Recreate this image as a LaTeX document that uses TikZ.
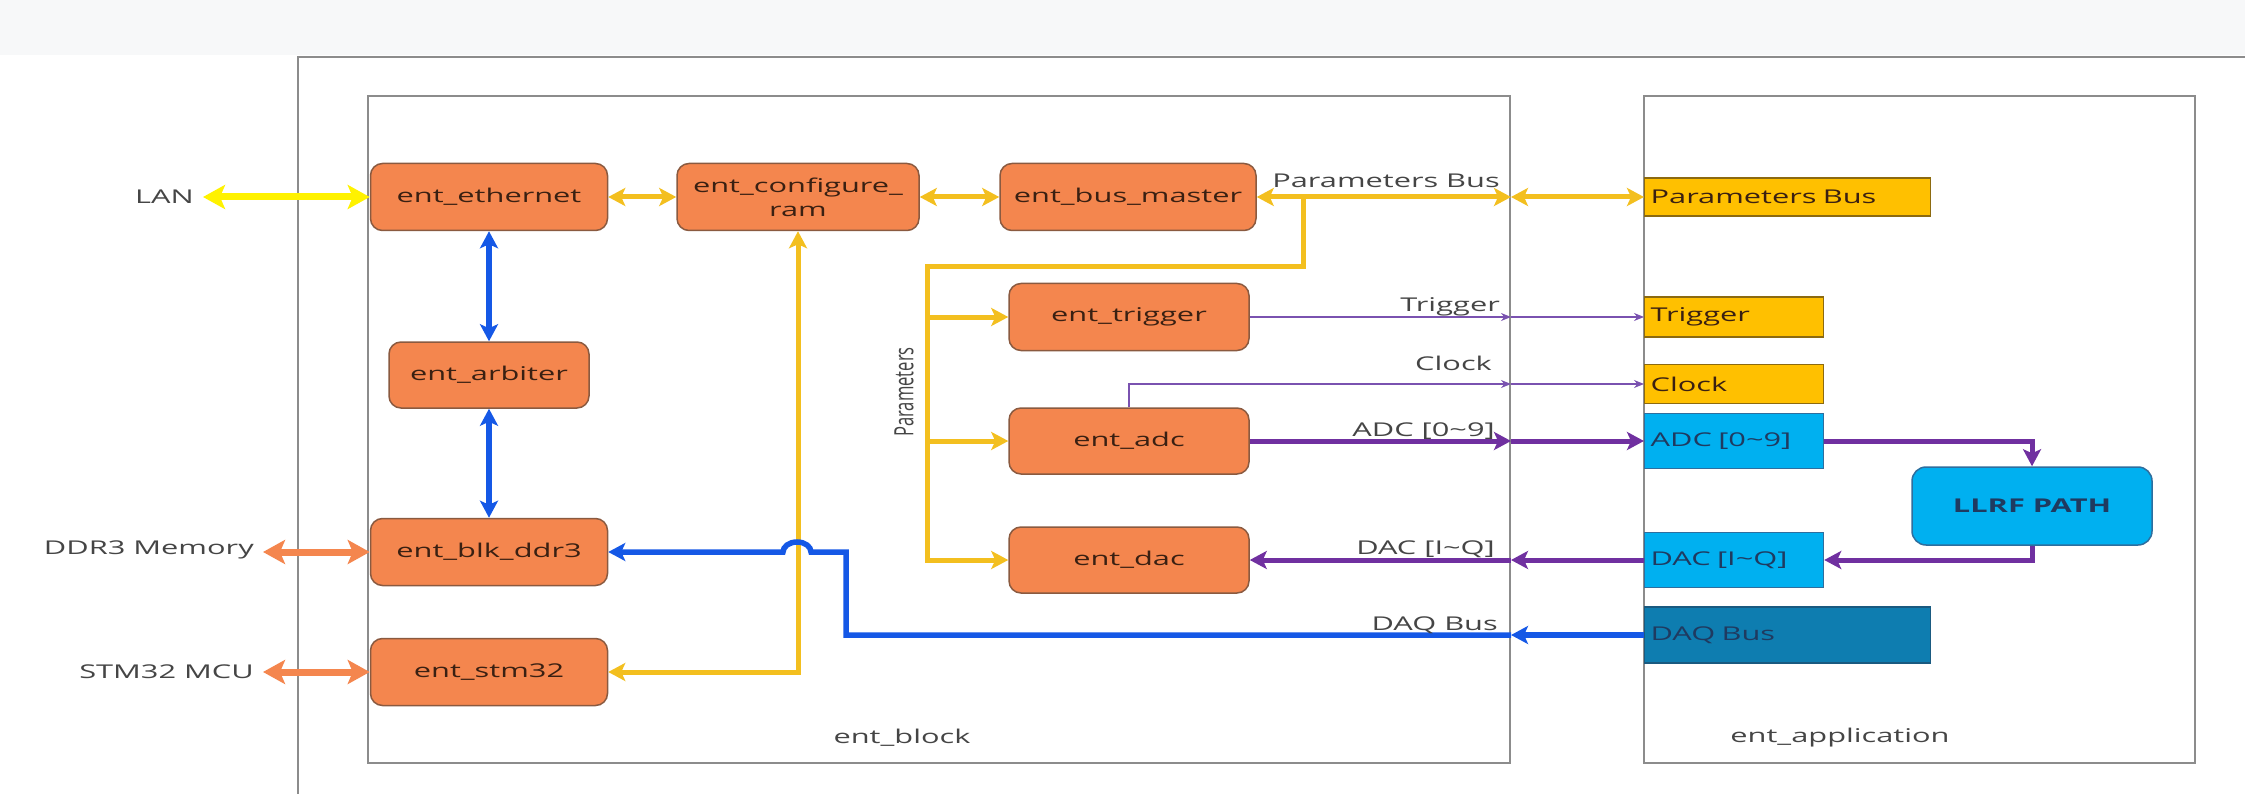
\documentclass[tikz,border=0pt]{standalone}
\usepackage{fontspec}
\usepackage{graphicx}
\setmainfont{Open Sans}[FakeStretch=1.62]
\newfontfamily\plainfont{Open Sans}
\usetikzlibrary{arrows.meta}
\usetikzlibrary{calc}

\definecolor{bandgray}{HTML}{F7F8F9}
\definecolor{boxgray}{HTML}{8C8C8C}
\definecolor{labelgray}{HTML}{454545}
\definecolor{orangefill}{HTML}{F4864E}
\definecolor{orangeline}{HTML}{8A5A40}
\definecolor{nodetext}{HTML}{3A2012}
\definecolor{goldline}{HTML}{F3BF1F}
\definecolor{goldfill}{HTML}{FFC000}
\definecolor{goldedge}{HTML}{8C6A10}
\definecolor{lanyellow}{HTML}{FFF200}
\definecolor{busblue}{HTML}{1558E6}
\definecolor{sigpurple}{HTML}{7030A0}
\definecolor{thinpurple}{HTML}{7A52B0}
\definecolor{cyanfill}{HTML}{00B0F0}
\definecolor{cyanedge}{HTML}{2E6E9E}
\definecolor{cyantext}{HTML}{1F3A60}
\definecolor{daqfill}{HTML}{0E7DB0}
\definecolor{daqedge}{HTML}{1A5A80}

\begin{document}
\begin{tikzpicture}[x=1pt, y=-1pt, font=\fontsize{19}{24}\selectfont,
  modbox/.style={draw=boxgray, line width=2pt, inner sep=0pt},
  entity/.style={draw=orangeline, line width=1.5pt, fill=orangefill, rounded corners=12pt, text=nodetext, align=center, minimum height=67pt, inner sep=0pt},
  portbox/.style={draw=goldedge, line width=1.2pt, fill=goldfill, text=nodetext, align=left, anchor=west, inner xsep=6pt, inner ysep=0pt},
  cportbox/.style={portbox, draw=cyanedge, fill=cyanfill, text=cyantext},
  daqbox/.style={portbox, draw=daqedge, fill=daqfill, text=cyantext},
  llrfbox/.style={draw=cyanedge, line width=1.5pt, fill=cyanfill, rounded corners=14pt, text=cyantext, font=\fontsize{19}{24}\selectfont\bfseries, minimum width=240pt, minimum height=78pt},
  extlbl/.style={text=labelgray, anchor=east, inner xsep=9pt},
  siglbl/.style={text=labelgray, anchor=base east, inner sep=0pt},
  lanline/.style={draw=lanyellow, line width=7pt, >={Stealth[length=22pt,width=24pt,inset=5pt]}},
  memline/.style={draw=orangefill, line width=7pt, >={Stealth[length=22pt,width=24pt,inset=5pt]}},
  goldbus/.style={draw=goldline, line width=5pt, >={Stealth[length=17pt,width=18pt,inset=4pt]}},
  bluebus/.style={draw=busblue, line width=5.5pt, >={Stealth[length=17pt,width=18pt,inset=4pt]}},
  thicksig/.style={draw=sigpurple, line width=5pt, >={Stealth[length=17pt,width=18pt,inset=4pt]}},
  thinsig/.style={draw=thinpurple, line width=1.5pt, >={Stealth[length=10pt,width=8pt]}}]

\useasboundingbox (0,0) rectangle (2245,794);
\fill[bandgray] (0,0) rectangle (2245,55); % top band
\draw[boxgray, line width=2pt] (298,800) -- (298,57) -- (2250,57); % outer frame

% containers
\node[modbox, minimum width=1142pt, minimum height=667pt] (blk) at (939,429.5) {};
\node[modbox, minimum width=551pt, minimum height=667pt] (app) at (1919.5,429.5) {};
\node[text=labelgray] (blklbl) at (902,738) {ent\_block};
\node[text=labelgray] (applbl) at (1840,738) {ent\_application};

% ent_block entities
\node[entity, minimum width=237pt] (eth) at (489,197) {ent\_ethernet};
\node[entity, minimum width=242pt] (cfg) at (798,197) {ent\_configure\_\\ram};
\node[entity, minimum width=256pt] (bm) at (1128,197) {ent\_bus\_master};
\node[entity, minimum width=200pt, minimum height=66pt] (arb) at (489,375) {ent\_arbiter};
\node[entity, minimum width=237pt] (ddr) at (489,552) {ent\_blk\_ddr3};
\node[entity, minimum width=237pt] (stm) at (489,672) {ent\_stm32};
\node[entity, minimum width=240pt] (trg) at (1129,317) {ent\_trigger};
\node[entity, minimum width=240pt, minimum height=66pt] (adc) at (1129,441) {ent\_adc};
\node[entity, minimum width=240pt, minimum height=66pt] (dac) at (1129,560) {ent\_dac};

% ent_application ports
\node[portbox, text width=274pt, minimum height=38pt] (pbus) at (1644,197) {Parameters Bus};
\node[portbox, text width=167pt, minimum height=40pt] (trgport) at (1644,317) {Trigger};
\node[portbox, text width=167pt, minimum height=39pt] (clkport) at (1644,384) {Clock};
\node[cportbox, text width=167pt, minimum height=55pt] (adcport) at (1644,441) {ADC [0\textasciitilde 9]};
\node[cportbox, text width=167pt, minimum height=55pt] (dacport) at (1644,560) {DAC [I\textasciitilde Q]};
\node[daqbox, text width=274pt, minimum height=56pt] (daqport) at (1644,635) {DAQ Bus};
\node[llrfbox] (llrf) at (2032,506) {LLRF PATH};

% outside world
\node[extlbl] (lan) at (203,197) {LAN};
\node[extlbl] (ddrlbl) at (263,550) {DDR3 Memory};
\node[extlbl] (stmlbl) at (263,672) {STM32 MCU};
\draw[lanline, <->] (lan.east) -- (eth.west);
\draw[memline, <->] (ddrlbl.east |- ddr.west) -- (ddr.west);
\draw[memline, <->] (stmlbl.east) -- (stm.west);

% parameter bus
\draw[goldbus, <->] (eth.east) -- (cfg.west);
\draw[goldbus, <->] (cfg.east) -- (bm.west);
\draw[goldbus, <->] (bm.east) -- (bm.east -| blk.east);
\draw[goldbus, <->] (bm.east -| blk.east) -- (pbus.west);
\node[siglbl] (pblbl) at (1500,188) {Parameters Bus};
\coordinate (tap) at (1303,197);
\coordinate (knee) at (1303,267);
\coordinate (spine) at (927,267);
\draw[goldbus, ->] (tap) -- (knee) -- (spine) |- (dac.west);
\draw[goldbus, ->] (spine |- trg.west) -- (trg.west);
\draw[goldbus, ->] (spine |- adc.west) -- (adc.west);
\node[rotate=90, text=labelgray, inner sep=0pt] (parlbl) at (904,392) {\plainfont\fontsize{16.6}{20}\selectfont\scalebox{1}[1.6]{Parameters}};
\draw[goldbus, <->] (cfg.south) |- (stm.east); % to stm32

% local blue buses
\draw[bluebus, <->] (eth.south) -- (arb.north);
\draw[bluebus, <->] (arb.south) -- (ddr.north);

% trigger, clock
\draw[thinsig, ->] (trg.east) -- (trg.east -| blk.east);
\draw[thinsig, ->] (trg.east -| blk.east) -- (trgport.west);
\node[siglbl] (trglbl) at (1500,311) {Trigger};
\draw[thinsig, ->] (adc.north) |- (clkport.west -| blk.east);
\draw[thinsig, ->] (clkport.west -| blk.east) -- (clkport.west);
\node[siglbl] (clklbl) at (1492,370) {Clock};

% adc / dac data
\draw[thicksig, ->] (adc.east) -- (adc.east -| blk.east);
\draw[thicksig, ->] (adc.east -| blk.east) -- (adcport.west);
\node[siglbl] (adclbl) at (1495,436) {ADC [0\textasciitilde 9]};
\draw[thicksig, ->] (adcport.east) -| (llrf.north);
\draw[thicksig, ->] (llrf.south) |- (dacport.east);
\draw[thicksig, ->] (dacport.west) -- (dacport.west -| blk.east);
\draw[thicksig, ->] (dacport.west -| blk.east) -- (dac.east);
\node[siglbl] (daclbl) at (1495,554) {DAC [I\textasciitilde Q]};

% daq bus, hops over the gold line
\coordinate (daqturn) at (846,635);
\coordinate (hop) at (811,552);
\draw[bluebus, ->] (daqport.west) -- (daqport.west -| blk.east);
\draw[bluebus, ->] (daqport.west -| blk.east) -- (daqturn) |- (hop) arc[start angle=0, end angle=-180, x radius=14, y radius=10] -- (ddr.east);
\node[siglbl] (daqlbl) at (1498,630) {DAQ Bus};
\end{tikzpicture}
\end{document}
